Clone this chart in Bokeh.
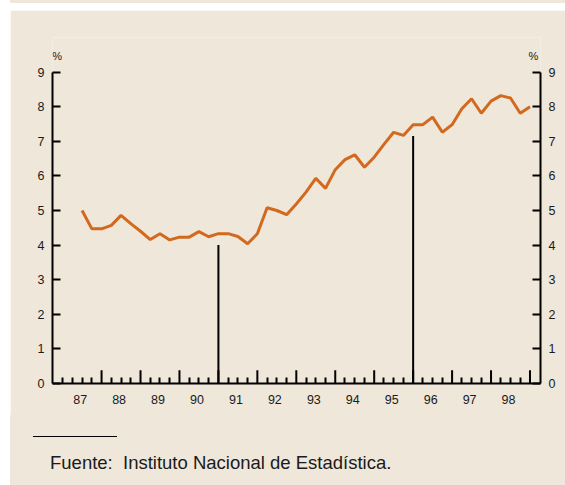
from bokeh.plotting import figure
from bokeh.models import FixedTicker, LinearAxis, Range1d, Spacer, Div
from bokeh.layouts import column, row
from bokeh.core.properties import value
from bokeh.embed import file_html
from bokeh.resources import INLINE

# ---- data ----
years = list(range(1987, 1999))
year_labels = ["87", "88", "89", "90", "91", "92", "93", "94", "95", "96", "97", "98"]
first_year = 1987
first_quarter = 2          # series starts in the 2nd quarter of 1987
rate = [5.00, 4.47, 4.47, 4.57, 4.86, 4.62, 4.40, 4.16, 4.33, 4.15,
        4.23, 4.23, 4.39, 4.24, 4.33, 4.33, 4.25, 4.04, 4.33, 5.08,
        5.00, 4.88, 5.19, 5.53, 5.93, 5.64, 6.18, 6.47, 6.61, 6.25,
        6.54, 6.91, 7.26, 7.17, 7.48, 7.48, 7.70, 7.26, 7.48, 7.94,
        8.23, 7.81, 8.16, 8.32, 8.25, 7.81, 8.00]
break_x = [1991.0, 1996.0]
break_top = [4.0, 7.15]
y_ticks = [0, 1, 2, 3, 4, 5, 6, 7, 8, 9]
unit_labels = ["%", "%"]
source_text = "Fuente:  Instituto Nacional de Estadística."

BG = "#EFE7D9"
LINE = "#D2691E"
FONT = "Liberation Sans"
TXT = "#1a1a1a"
W = 555

x = [first_year + (first_quarter + i) / 4 for i in range(len(rate))]
label_pos = [y + 0.45 for y in years]
small_ticks = [first_year + q / 4 for q in range(len(years) * 4) if q % 4 != 0 or q == 0]
big_ticks = [y + 1 for y in years]

p = figure(width=W, height=405,
           x_range=Range1d(1986.74, 1999.27), y_range=Range1d(0, 10),
           output_backend="svg", toolbar_location=None,
           min_border_left=42, min_border_right=25,
           min_border_top=27, min_border_bottom=32,
           background_fill_color=BG, border_fill_color=BG,
           outline_line_color=None, margin=0)
p.xgrid.visible = False
p.ygrid.visible = False

# x axis
xa = p.xaxis[0]
xa.ticker = FixedTicker(ticks=label_pos, minor_ticks=small_ticks)
xa.major_label_overrides = {pos: lab for pos, lab in zip(label_pos, year_labels)}
xa.major_tick_line_color = None
xa.minor_tick_in = 6
xa.minor_tick_out = 0
xa.minor_tick_line_width = 2
xa.minor_tick_line_color = "black"
xa.axis_line_width = 2
xa.axis_line_color = "black"
xa.major_label_standoff = 5
xa.major_label_text_font = FONT
xa.major_label_text_font_size = "12.5px"
xa.major_label_text_color = TXT

def style_y(ax):
    ax.ticker = FixedTicker(ticks=y_ticks)
    ax.bounds = (0, 9)
    ax.major_tick_in = 8
    ax.major_tick_out = 0
    ax.major_tick_line_width = 2
    ax.major_tick_line_color = "black"
    ax.minor_tick_line_color = None
    ax.axis_line_width = 2
    ax.axis_line_color = "black"
    ax.major_label_standoff = 8
    ax.major_label_text_font = FONT
    ax.major_label_text_font_size = "12.5px"
    ax.major_label_text_color = TXT

style_y(p.yaxis[0])
ra = LinearAxis()
style_y(ra)
p.add_layout(ra, "right")

# tall year ticks
p.segment(x0=big_ticks, y0=[0] * len(big_ticks), x1=big_ticks, y1=[0.38] * len(big_ticks),
          line_width=2, color="black")

# series breaks
p.segment(x0=break_x, y0=[0] * len(break_x), x1=break_x, y1=break_top,
          line_width=2, color="black")

# data line
p.line(x, rate, line_width=3, color=LINE)

# % unit labels above the axes
p.text(x=[1986.86, 1999.09], y=[9.47, 9.47], text=unit_labels,
       text_align="center", text_baseline="middle",
       text_font=value(FONT), text_font_size="11px", text_color=TXT)

# footer
footer_html = (
    '<div style="position:relative;width:%dpx;height:70px;">'
    '<div style="position:absolute;left:23px;top:21px;width:84px;height:0;'
    'border-top:1px solid #000;"></div>'
    '<div style="position:absolute;left:40px;top:37px;line-height:22px;white-space:pre;'
    'font-family:\'%s\';font-size:18.5px;color:%s;">%s</div>'
    '</div>' % (W, FONT, TXT, source_text)
)
footer = Div(text=footer_html, width=W, height=70, margin=0,
             styles={"background-color": BG, "overflow": "hidden"})

top_strip = Div(text="", width=W, height=3, margin=0,
                styles={"background-color": BG, "overflow": "hidden"})

layout = row(Spacer(width=10, height=485, margin=0),
             column(top_strip, Spacer(width=W, height=7, margin=0), p, footer,
                    spacing=0, margin=0),
             spacing=0, margin=0)

open("out.html", "w").write(file_html(layout, INLINE))
